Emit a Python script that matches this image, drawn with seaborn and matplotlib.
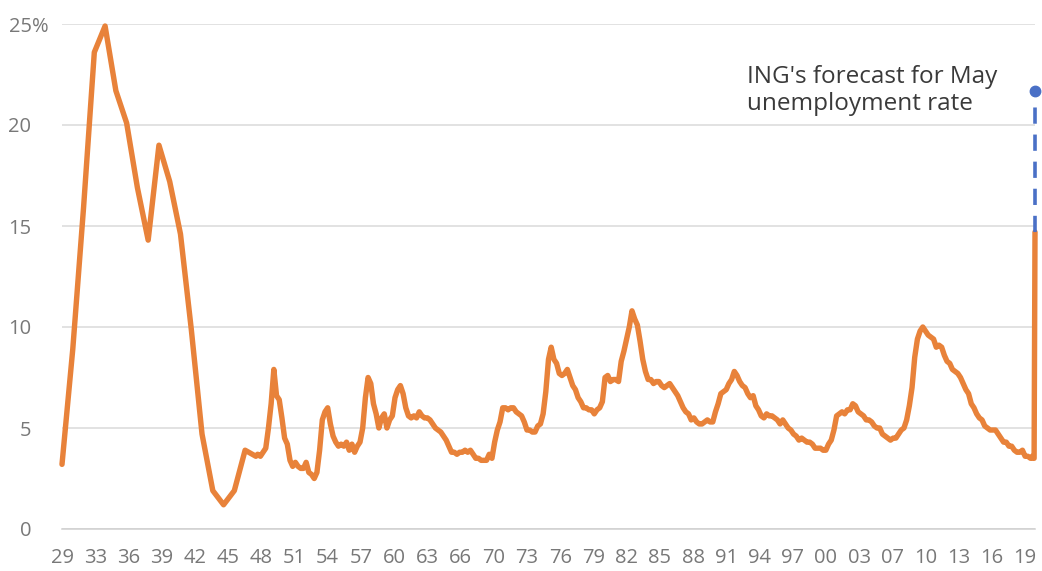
import numpy as np
import pandas as pd
import matplotlib
matplotlib.use("Agg")
import matplotlib.pyplot as plt
import matplotlib.transforms as mtransforms
import seaborn as sns

# ---- data -------------------------------------------------------------
annual_years = list(range(1929, 1948))
annual_rates = [3.2, 8.9, 15.9, 23.6, 24.9, 21.7, 20.1, 16.9, 14.3, 19.0,
                17.2, 14.6, 9.9, 4.7, 1.9, 1.2, 1.9, 3.9, 3.6]

quarter_start_year = 1948
quarterly_rates = [
    3.7, 3.6, 3.8, 4.0,    # 1948
    5.0, 6.2, 7.9, 6.6,    # 1949
    6.4, 5.5, 4.5, 4.2,    # 1950
    3.4, 3.1, 3.3, 3.1,    # 1951
    3.0, 3.0, 3.3, 2.8,    # 1952
    2.7, 2.5, 2.8, 3.9,    # 1953
    5.4, 5.8, 6.0, 5.2,    # 1954
    4.6, 4.3, 4.1, 4.2,    # 1955
    4.1, 4.3, 3.9, 4.2,    # 1956
    3.8, 4.1, 4.3, 5.0,    # 1957
    6.5, 7.5, 7.2, 6.2,    # 1958
    5.7, 5.0, 5.5, 5.7,    # 1959
    5.0, 5.4, 5.6, 6.5,    # 1960
    6.9, 7.1, 6.7, 6.0,    # 1961
    5.6, 5.5, 5.6, 5.5,    # 1962
    5.8, 5.6, 5.5, 5.5,    # 1963
    5.4, 5.2, 5.0, 4.9,    # 1964
    4.8, 4.6, 4.4, 4.1,    # 1965
    3.8, 3.8, 3.7, 3.8,    # 1966
    3.8, 3.9, 3.8, 3.9,    # 1967
    3.7, 3.5, 3.5, 3.4,    # 1968
    3.4, 3.4, 3.7, 3.5,    # 1969
    4.3, 4.9, 5.3, 6.0,    # 1970
    6.0, 5.9, 6.0, 6.0,    # 1971
    5.8, 5.7, 5.6, 5.3,    # 1972
    4.9, 4.9, 4.8, 4.8,    # 1973
    5.1, 5.2, 5.7, 6.8,    # 1974
    8.4, 9.0, 8.4, 8.2,    # 1975
    7.7, 7.6, 7.7, 7.9,    # 1976
    7.5, 7.1, 6.9, 6.5,    # 1977
    6.3, 6.0, 6.0, 5.9,    # 1978
    5.9, 5.7, 5.9, 6.0,    # 1979
    6.3, 7.5, 7.6, 7.3,    # 1980
    7.4, 7.4, 7.3, 8.3,    # 1981
    8.8, 9.4, 10.0, 10.8,  # 1982
    10.4, 10.1, 9.3, 8.4,  # 1983
    7.8, 7.4, 7.4, 7.2,    # 1984
    7.3, 7.3, 7.1, 7.0,    # 1985
    7.1, 7.2, 7.0, 6.8,    # 1986
    6.6, 6.3, 6.0, 5.8,    # 1987
    5.7, 5.4, 5.5, 5.3,    # 1988
    5.2, 5.2, 5.3, 5.4,    # 1989
    5.3, 5.3, 5.8, 6.2,    # 1990
    6.7, 6.8, 6.9, 7.2,    # 1991
    7.4, 7.8, 7.6, 7.3,    # 1992
    7.1, 7.0, 6.7, 6.5,    # 1993
    6.6, 6.1, 5.9, 5.6,    # 1994
    5.5, 5.7, 5.6, 5.6,    # 1995
    5.5, 5.4, 5.2, 5.4,    # 1996
    5.2, 5.0, 4.9, 4.7,    # 1997
    4.6, 4.4, 4.5, 4.4,    # 1998
    4.3, 4.3, 4.2, 4.0,    # 1999
    4.0, 4.0, 3.9, 3.9,    # 2000
    4.2, 4.4, 4.9, 5.6,    # 2001
    5.7, 5.8, 5.7, 5.9,    # 2002
    5.9, 6.2, 6.1, 5.8,    # 2003
    5.7, 5.6, 5.4, 5.4,    # 2004
    5.3, 5.1, 5.0, 5.0,    # 2005
    4.7, 4.6, 4.5, 4.4,    # 2006
    4.5, 4.5, 4.7, 4.9,    # 2007
    5.0, 5.4, 6.1, 7.0,    # 2008
    8.5, 9.4, 9.8, 10.0,   # 2009
    9.8, 9.6, 9.5, 9.4,    # 2010
    9.0, 9.1, 9.0, 8.6,    # 2011
    8.3, 8.2, 7.9, 7.8,    # 2012
    7.7, 7.5, 7.2, 6.9,    # 2013
    6.7, 6.2, 6.0, 5.7,    # 2014
    5.5, 5.4, 5.1, 5.0,    # 2015
    4.9, 4.9, 4.9, 4.7,    # 2016
    4.5, 4.3, 4.3, 4.1,    # 2017
    4.1, 3.9, 3.8, 3.8,    # 2018
    3.9, 3.6, 3.6, 3.5,    # 2019
]

monthly_2020_months = [1, 2, 3, 4]
monthly_2020_rates = [3.6, 3.5, 3.5, 14.7]

forecast_month = 5
forecast_rate = 21.7

y_ticks = [0, 5, 10, 15, 20, 25]
y_tick_labels = ["0", "5", "10", "15", "20", "25%"]
x_tick_labels = ["29", "33", "36", "39", "42", "45", "48", "51", "54", "57",
                 "60", "63", "66", "70", "73", "76", "79", "82", "85", "88",
                 "91", "94", "97", "00", "03", "07", "10", "13", "16", "19"]

annotation_text = "ING's forecast for May\nunemployment rate"

# ---- build a time series (end-of-period convention) -------------------
x_annual = [y + 1.0 for y in annual_years]
n_q = len(quarterly_rates)
x_quarter = [quarter_start_year + (3 * (i % 4) + 2) / 12 + i // 4 for i in range(n_q)]
x_2020 = [2020 + m / 12 for m in monthly_2020_months]

df = pd.DataFrame({
    "t": x_annual + x_quarter + x_2020,
    "rate": annual_rates + quarterly_rates + monthly_2020_rates,
})
fc = pd.DataFrame({
    "t": [2020 + monthly_2020_months[-1] / 12, 2020 + forecast_month / 12 - 1 / 12 + 0.001],
    "rate": [monthly_2020_rates[-1], forecast_rate],
})

# ---- style -------------------------------------------------------------
sns.set_theme(style="white")
plt.rcParams["font.family"] = ["Open Sans", "DejaVu Sans"]

ORANGE = "#E8823A"
BLUE = "#4A70C6"
TICK_GREY = "#787878"

fig = plt.figure(figsize=(10.42, 5.71), dpi=100)
ax = fig.add_axes([62 / 1042, 42 / 571, 973 / 1042, 505 / 571])

sns.lineplot(data=df, x="t", y="rate", ax=ax, color=ORANGE, linewidth=3.9,
             solid_joinstyle="round", solid_capstyle="round", clip_on=False,
             zorder=3)
sns.lineplot(data=fc, x="t", y="rate", ax=ax, color=BLUE, linewidth=2.6,
             linestyle=(0, (4.5, 3.0)), clip_on=False, zorder=4)
ax.plot(fc["t"].iloc[-1], fc["rate"].iloc[-1], "o", color=BLUE,
        markersize=7.5, clip_on=False, zorder=5)

ax.set_xlim(1930.0, 2020 + 4 / 12)
ax.set_ylim(0, 25)

# grid
ax.set_yticks(y_ticks)
ax.yaxis.grid(True, color="#dadada", linewidth=1.1)
ax.set_axisbelow(True)
for s in ["top", "right", "left"]:
    ax.spines[s].set_visible(False)
ax.spines["bottom"].set_color("#cfcfcf")
ax.spines["bottom"].set_linewidth(1.1)

# y tick labels
ax.set_yticklabels(y_tick_labels)
ax.tick_params(axis="y", length=0, pad=22, labelsize=14.5, labelcolor=TICK_GREY)
for lab in ax.get_yticklabels():
    lab.set_horizontalalignment("right")
    if lab.get_text().endswith("%"):
        lab.set_transform(lab.get_transform() +
                          mtransforms.ScaledTranslation(17 / 100, 0, fig.dpi_scale_trans))

# x ticks
x_tick_pos = [1930.0 + k * 37 / 12 for k in range(len(x_tick_labels))]
ax.set_xticks(x_tick_pos)
ax.set_xticklabels(x_tick_labels)
ax.tick_params(axis="x", direction="out", length=5, width=1, color="#cfcfcf",
               pad=9, labelsize=14.5, labelcolor=TICK_GREY)
ax.set_xlabel("")
ax.set_ylabel("")

ax.text(0.704, 0.868, annotation_text, transform=ax.transAxes,
        fontsize=17.5, color="#3a3a3a", ha="left", va="center",
        linespacing=1.15)

fig.savefig("out.png", dpi=100)
